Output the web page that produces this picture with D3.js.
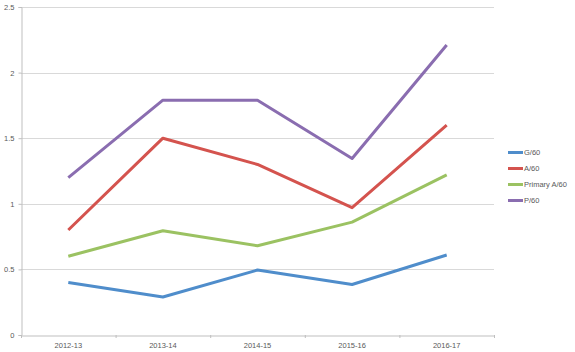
<!DOCTYPE html>
<html><head><meta charset="utf-8">
<script src="https://cdn.jsdelivr.net/npm/d3@7"></script>
<style>body{margin:0;background:#fff}svg{display:block}text{font-family:"Liberation Sans",Arial,sans-serif;fill:#595959}</style>
</head><body>
<script>
const categories = ["2012-13","2013-14","2014-15","2015-16","2016-17"];
const seriesNames = ["G/60","A/60","Primary A/60","P/60"];
const gValues = [0.40,0.29,0.495,0.385,0.61];
const aValues = [0.80,1.50,1.30,0.97,1.60];
const primaryAValues = [0.60,0.795,0.68,0.86,1.22];
const pValues = [1.20,1.79,1.79,1.345,2.21];
const yTicks = [0,0.5,1,1.5,2,2.5];
const colors = ["#4F8DCB","#D4534E","#9BC262","#8A6DB0"];

const series = [gValues,aValues,primaryAValues,pValues];
const W=575,H=352;
const svg=d3.select("body").append("svg").attr("width",W).attr("height",H);
const x=d3.scaleBand().domain(categories).range([21,494]);
const y=d3.scaleLinear().domain([0,2.5]).range([335,7]);

// gridlines
svg.append("g").selectAll("line").data(yTicks.filter(d=>d>0)).join("line")
  .attr("x1",21).attr("x2",494).attr("y1",d=>Math.round(y(d))+0.5).attr("y2",d=>Math.round(y(d))+0.5)
  .attr("stroke","#d9d9d9").attr("stroke-width",1);

const yAxis=svg.append("g").attr("transform","translate(21.5,0)")
  .call(d3.axisLeft(y).tickValues(yTicks).tickFormat(d=>String(d)).tickSize(3).tickPadding(4));
yAxis.select(".domain").attr("stroke","#bfbfbf");
yAxis.selectAll(".tick line").attr("stroke","#bfbfbf");
yAxis.selectAll("text").style("font-size","7.5px").style("fill","#595959");

const xAxis=svg.append("g").attr("transform","translate(0,335.5)")
  .call(d3.axisBottom(x).tickSize(0).tickPadding(7));
xAxis.select(".domain").attr("stroke","#bfbfbf");
xAxis.selectAll("text").style("font-size","7.5px").style("fill","#595959");
// boundary ticks
svg.append("g").selectAll("line").data(d3.range(categories.length+1)).join("line")
  .attr("x1",i=>21+i*x.step()+0.5).attr("x2",i=>21+i*x.step()+0.5)
  .attr("y1",335).attr("y2",338).attr("stroke","#bfbfbf");

const line=d3.line().x((d,i)=>x(categories[i])+x.bandwidth()/2).y(d=>y(d));
svg.append("g").selectAll("path").data(series).join("path")
  .attr("d",line).attr("fill","none").attr("stroke",(d,i)=>colors[i])
  .attr("stroke-width",3).attr("stroke-linejoin","round");

const lg=svg.append("g").selectAll("g").data(seriesNames).join("g")
  .attr("transform",(d,i)=>`translate(508,${152.5+i*16})`);
lg.append("line").attr("x1",0).attr("x2",15).attr("stroke",(d,i)=>colors[i]).attr("stroke-width",3);
lg.append("text").attr("x",16).attr("dy","0.35em").style("font-size","7.5px").text(d=>d);
</script>
</body></html>
